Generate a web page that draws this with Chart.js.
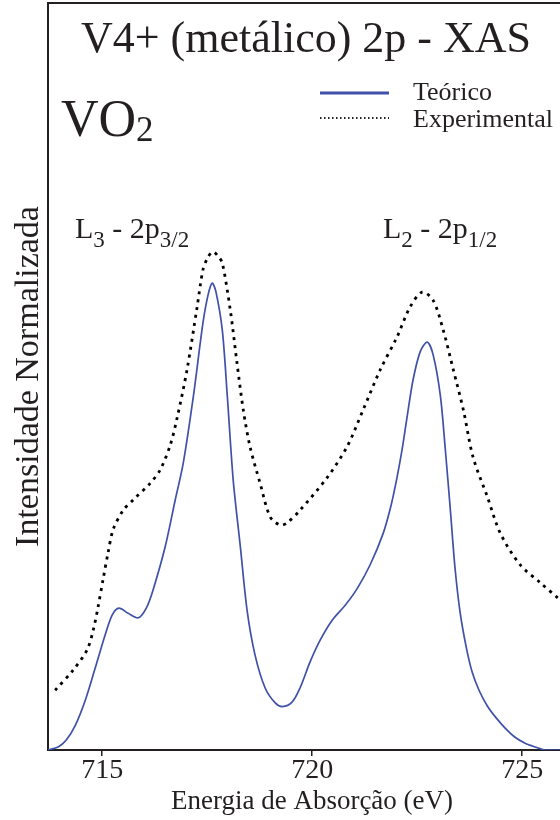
<!DOCTYPE html>
<html>
<head>
<meta charset="utf-8">
<script src="https://cdn.jsdelivr.net/npm/chart.js@4"></script>
<style>
  html, body { margin: 0; padding: 0; background: #fff; }
  #wrap { width: 560px; height: 820px; }
</style>
</head>
<body>
<div id="wrap"><canvas id="xas"></canvas></div>
<script>
// Teórico (curva azul)
const energiaTeorico = [713.71, 713.95, 714.14, 714.36, 714.6, 714.83, 715.07, 715.24, 715.4, 715.62, 715.86, 716.05, 716.21, 716.5, 716.74, 716.93, 717.17, 717.4, 717.52, 717.62, 717.71, 717.86, 717.98, 718.12, 718.29, 718.45, 718.64, 718.88, 719.12, 719.29, 719.52, 719.71, 719.95, 720.19, 720.48, 720.79, 721.07, 721.38, 721.69, 721.88, 722.02, 722.14, 722.26, 722.4, 722.57, 722.74, 722.88, 723.05, 723.17, 723.29, 723.4, 723.52, 723.67, 723.81, 723.98, 724.17, 724.38, 724.6, 724.83, 725.07, 725.31, 725.55, 725.9];
const intensidadeTeorico = [0, 0.004, 0.013, 0.033, 0.067, 0.109, 0.154, 0.181, 0.19, 0.183, 0.177, 0.19, 0.214, 0.272, 0.335, 0.384, 0.473, 0.572, 0.609, 0.625, 0.613, 0.562, 0.473, 0.361, 0.272, 0.187, 0.127, 0.083, 0.063, 0.058, 0.064, 0.083, 0.118, 0.147, 0.174, 0.194, 0.216, 0.248, 0.29, 0.328, 0.365, 0.402, 0.446, 0.495, 0.533, 0.546, 0.529, 0.475, 0.402, 0.321, 0.244, 0.185, 0.137, 0.104, 0.079, 0.059, 0.043, 0.029, 0.017, 0.009, 0.004, 0, 0];

// Experimental (curva pontilhada)
const energiaExperimental = [713.88, 714.31, 714.64, 714.79, 714.9, 715.02, 715.14, 715.26, 715.5, 715.74, 716.14, 716.38, 716.62, 716.79, 717.02, 717.26, 717.4, 717.52, 717.64, 717.76, 717.86, 718.05, 718.21, 718.36, 718.52, 718.76, 719.0, 719.24, 719.4, 719.71, 720.36, 720.83, 721.21, 721.62, 722.02, 722.33, 722.62, 722.88, 723.12, 723.36, 723.6, 723.83, 724.17, 724.48, 724.95, 725.43, 725.86];
const intensidadeExperimental = [0.08, 0.107, 0.134, 0.161, 0.191, 0.228, 0.264, 0.295, 0.321, 0.335, 0.357, 0.375, 0.408, 0.446, 0.509, 0.593, 0.643, 0.66, 0.667, 0.661, 0.652, 0.589, 0.518, 0.455, 0.406, 0.357, 0.312, 0.301, 0.304, 0.321, 0.365, 0.406, 0.455, 0.509, 0.553, 0.593, 0.613, 0.602, 0.562, 0.509, 0.455, 0.392, 0.339, 0.29, 0.248, 0.224, 0.203];

const xTicks = [715, 720, 725];

const serif = '"Liberation Serif", "DejaVu Serif", serif';
const ink = '#231f20';
const azul = '#3f51a8';

function toPoints(xs, ys) {
  return xs.map((x, i) => ({ x: x, y: ys[i] }));
}

// textos dentro da área do gráfico
const textos = {
  id: 'textos',
  afterDraw(chart) {
    const c = chart.ctx;
    const a = chart.chartArea;
    c.save();
    c.fillStyle = ink;
    c.textBaseline = 'alphabetic';

    // moldura superior
    c.strokeStyle = ink;
    c.lineWidth = 2;
    c.beginPath();
    c.moveTo(a.left, a.top);
    c.lineTo(a.right, a.top);
    c.stroke();

    c.font = '44px ' + serif;
    c.textAlign = 'center';
    c.fillText('V4+ (metálico) 2p - XAS', 306, 52);

    // título do eixo x
    c.font = '27px ' + serif;
    c.fillText('Energia de Absorção (eV)', 312, 809);

    c.textAlign = 'left';
    c.font = '52px ' + serif;
    c.fillText('VO', 61, 136);
    let w = c.measureText('VO').width;
    c.font = '35px ' + serif;
    c.fillText('2', 61 + w, 141);

    // legenda
    c.strokeStyle = azul;
    c.lineWidth = 3;
    c.beginPath();
    c.moveTo(320, 93);
    c.lineTo(389, 93);
    c.stroke();
    c.strokeStyle = ink;
    c.lineWidth = 2;
    c.setLineDash([1.5, 2.5]);
    c.beginPath();
    c.moveTo(320, 118);
    c.lineTo(389, 118);
    c.stroke();
    c.setLineDash([]);
    c.font = '26px ' + serif;
    c.fillText('Teórico', 413, 100);
    c.fillText('Experimental', 413, 127);

    // L3 / L2
    function rotulo(x, y, L, sub1, sub2) {
      c.font = '30px ' + serif;
      c.fillText(L, x, y);
      let px = x + c.measureText(L).width;
      c.font = '23px ' + serif;
      c.fillText(sub1, px, y + 9);
      px += c.measureText(sub1).width;
      c.font = '30px ' + serif;
      c.fillText(' - 2p', px, y);
      px += c.measureText(' - 2p').width;
      c.font = '23px ' + serif;
      c.fillText(sub2, px, y + 9);
    }
    rotulo(75, 238, 'L', '3', '3/2');
    rotulo(383, 238, 'L', '2', '1/2');
    c.restore();
  }
};

new Chart(document.getElementById('xas'), {
  type: 'scatter',
  data: {
    datasets: [
      {
        label: 'Teórico',
        data: toPoints(energiaTeorico, intensidadeTeorico),
        showLine: true,
        borderColor: azul,
        borderWidth: 1.7,
        pointRadius: 0,
        tension: 0.3
      },
      {
        label: 'Experimental',
        data: toPoints(energiaExperimental, intensidadeExperimental),
        showLine: true,
        borderColor: '#000',
        borderWidth: 2.8,
        borderDash: [3, 5],
        pointRadius: 0,
        tension: 0.3
      }
    ]
  },
  options: {
    responsive: true,
    maintainAspectRatio: false,
    animation: false,
    layout: { padding: { top: 3, right: 0, left: 0, bottom: 0 } },
    plugins: {
      legend: { display: false },
      tooltip: { enabled: false }
    },
    scales: {
      x: {
        type: 'linear',
        min: 713.71,
        max: 725.9,
        afterBuildTicks: (axis) => { axis.ticks = xTicks.map(v => ({ value: v })); },
        afterFit: (axis) => { axis.height = 70; },
        grid: { drawOnChartArea: false, drawTicks: true, tickLength: 6, color: ink, lineWidth: 1.5 },
        border: { display: true, color: ink, width: 2 },
        ticks: { color: ink, font: { family: serif, size: 28 }, padding: -2, maxRotation: 0 },
        title: { display: false }
      },
      y: {
        min: 0,
        max: 1,
        afterFit: (axis) => { axis.width = 48; },
        grid: { display: false },
        border: { display: true, color: ink, width: 2 },
        ticks: { display: false },
        title: {
          display: true,
          text: 'Intensidade Normalizada',
          color: ink,
          font: { family: serif, size: 34 },
          padding: { top: 9, bottom: 0 }
        }
      }
    }
  },
  plugins: [textos]
});
</script>
</body>
</html>
